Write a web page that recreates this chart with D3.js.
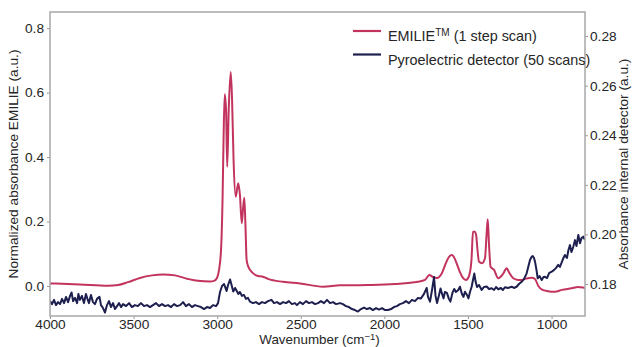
<!DOCTYPE html>
<html>
<head>
<meta charset="utf-8">
<script src="https://cdn.jsdelivr.net/npm/d3@7"></script>
<style>
  body { margin: 0; background: #fff; }
  text { font-family: "Liberation Sans", Arial, sans-serif; fill: #262626; }
</style>
</head>
<body>
<div id="chart"></div>
<script>
// EMILIE spectrum (left axis), [wavenumber, absorbance]
const emilieWave = [4000,3821,3653,3593,3533,3462,3390,3324,3252,3175,3115,3043,3019,3001,2989,2977,2968,2962,2955,2947,2940,2931,2919,2911,2902,2889,2874,2864,2853,2846,2838,2831,2824,2814,2786,2756,2726,2696,2606,2505,2367,2265,2098,1937,1799,1757,1731,1709,1685,1657,1632,1614,1597,1584,1566,1548,1530,1512,1494,1479,1470,1462,1452,1443,1434,1416,1398,1389,1382,1374,1365,1344,1319,1291,1268,1255,1229,1201,1179,1153,1119,1099,1079,1057,1021,980,938,880,842,810,800];
const emilieAbs = [0.008,0.005,0.001,0.003,0.012,0.025,0.033,0.036,0.033,0.022,0.016,0.014,0.016,0.025,0.05,0.112,0.267,0.453,0.595,0.547,0.37,0.547,0.664,0.578,0.391,0.277,0.319,0.283,0.195,0.236,0.274,0.189,0.081,0.06,0.04,0.031,0.029,0.022,0.013,0.008,-0.002,0.002,0.003,0.006,0.013,0.019,0.034,0.028,0.025,0.039,0.071,0.09,0.096,0.09,0.068,0.043,0.025,0.019,0.031,0.081,0.168,0.169,0.161,0.112,0.075,0.071,0.087,0.158,0.207,0.127,0.06,0.05,0.024,0.037,0.055,0.043,0.024,0.019,0.019,0.023,0.026,0.022,0.0,-0.011,-0.016,-0.018,-0.012,-0.007,-0.003,-0.005,-0.006];

// pyroelectric detector spectrum (right axis)
const pyroWave = [4000,3988,3976,3964,3952,3940,3928,3916,3904,3892,3880,3871,3862,3850,3838,3830,3821,3809,3797,3785,3776,3767,3755,3743,3731,3719,3704,3695,3683,3671,3659,3647,3635,3623,3611,3599,3587,3575,3563,3545,3527,3510,3492,3474,3456,3438,3420,3402,3384,3366,3348,3330,3312,3294,3276,3258,3240,3222,3204,3187,3169,3151,3133,3115,3097,3079,3061,3043,3025,3007,2995,2983,2971,2959,2944,2935,2923,2914,2904,2893,2883,2873,2864,2852,2840,2828,2816,2804,2786,2768,2750,2732,2714,2696,2675,2660,2642,2624,2606,2588,2571,2553,2535,2523,2505,2487,2469,2451,2433,2415,2397,2379,2361,2343,2325,2307,2289,2265,2248,2230,2212,2194,2176,2158,2140,2122,2104,2086,2068,2050,2032,2014,1996,1978,1960,1943,1925,1907,1889,1871,1853,1835,1817,1799,1781,1763,1747,1739,1727,1715,1703,1694,1685,1673,1664,1655,1646,1638,1626,1614,1605,1593,1582,1572,1558,1548,1536,1527,1518,1506,1497,1488,1478,1470,1462,1455,1446,1434,1418,1404,1388,1374,1358,1344,1332,1319,1303,1291,1279,1261,1239,1225,1209,1195,1179,1165,1149,1138,1129,1120,1113,1105,1099,1090,1083,1072,1059,1048,1039,1027,1015,999,986,974,960,950,938,929,920,908,899,890,881,870,860,851,840,830,821,810,800];
const pyroAbs = [0.1731,0.1719,0.1736,0.1715,0.1727,0.1719,0.1740,0.1723,0.1748,0.1727,0.1752,0.1766,0.1731,0.1744,0.1723,0.1760,0.1736,0.1752,0.1723,0.1760,0.1740,0.1723,0.1756,0.1727,0.1719,0.1740,0.1748,0.1715,0.1703,0.1685,0.1715,0.1731,0.1707,0.1723,0.1699,0.1711,0.1723,0.1707,0.1719,0.1711,0.1723,0.1707,0.1715,0.1711,0.1723,0.1711,0.1715,0.1707,0.1715,0.1723,0.1711,0.1719,0.1711,0.1715,0.1707,0.1719,0.1711,0.1715,0.1727,0.1711,0.1719,0.1707,0.1715,0.1711,0.1707,0.1699,0.1707,0.1703,0.1715,0.1711,0.1723,0.1768,0.1792,0.1800,0.1772,0.1796,0.1818,0.1796,0.1770,0.1784,0.1772,0.1760,0.1768,0.1752,0.1756,0.1740,0.1744,0.1729,0.1723,0.1727,0.1719,0.1727,0.1723,0.1731,0.1736,0.1723,0.1727,0.1719,0.1727,0.1723,0.1731,0.1719,0.1723,0.1715,0.1727,0.1719,0.1731,0.1723,0.1727,0.1719,0.1723,0.1731,0.1723,0.1736,0.1723,0.1727,0.1719,0.1723,0.1719,0.1711,0.1707,0.1699,0.1695,0.1689,0.1699,0.1705,0.1699,0.1703,0.1695,0.1703,0.1697,0.1703,0.1695,0.1695,0.1699,0.1707,0.1711,0.1719,0.1723,0.1731,0.1723,0.1736,0.1731,0.1744,0.1742,0.1760,0.1784,0.1748,0.1729,0.1776,0.1828,0.1752,0.1723,0.1756,0.1782,0.1760,0.1742,0.1768,0.1764,0.1740,0.1729,0.1764,0.1780,0.1768,0.1776,0.1789,0.1760,0.1748,0.1769,0.1756,0.1742,0.1768,0.1789,0.1816,0.1842,0.1812,0.1788,0.1796,0.1776,0.1788,0.1790,0.1780,0.1783,0.1776,0.1788,0.1779,0.1784,0.1776,0.1787,0.1784,0.1789,0.1784,0.1789,0.1800,0.1809,0.1820,0.1843,0.1873,0.1897,0.1909,0.1913,0.1905,0.1890,0.1856,0.1823,0.1832,0.1816,0.1828,0.1829,0.1824,0.1844,0.1850,0.1856,0.1864,0.1877,0.1869,0.1889,0.1905,0.1917,0.1905,0.1937,0.1957,0.1929,0.1950,0.1977,0.1953,0.1998,0.1964,0.1985,0.1991,0.1977];

const xTicks = [4000, 3500, 3000, 2500, 2000, 1500, 1000];
const leftTicks = [0.0, 0.2, 0.4, 0.6, 0.8];
const rightTicks = [0.18, 0.20, 0.22, 0.24, 0.26, 0.28];

const W = 632, H = 347;
const margin = { top: 12, right: 47, bottom: 31, left: 50 };
const width = W - margin.left - margin.right;
const height = H - margin.top - margin.bottom;

const red = "#c2345e", navy = "#1d1f4e";

const svg = d3.select("#chart").append("svg")
  .attr("width", W)
  .attr("height", H);

const g = svg.append("g")
  .attr("transform", `translate(${margin.left},${margin.top})`);

const x = d3.scaleLinear().domain([4000, 800]).range([0, width]);
const yL = d3.scaleLinear().domain([-0.093, 0.85]).range([height, 0]);
const yR = d3.scaleLinear().domain([0.1671, 0.2897]).range([height, 0]);

g.append("clipPath").attr("id", "clip")
  .append("rect").attr("width", width).attr("height", height);

const emilie = emilieWave.map((w, i) => ({ w: w, v: emilieAbs[i] }));
const pyro = pyroWave.map((w, i) => ({ w: w, v: pyroAbs[i] }));

const lineL = d3.line().x(d => x(d.w)).y(d => yL(d.v)).curve(d3.curveMonotoneX);
const lineR = d3.line().x(d => x(d.w)).y(d => yR(d.v));

g.append("path")
  .datum(emilie)
  .attr("clip-path", "url(#clip)")
  .attr("d", lineL)
  .attr("fill", "none")
  .attr("stroke", red)
  .attr("stroke-width", 2);

g.append("path")
  .datum(pyro)
  .attr("clip-path", "url(#clip)")
  .attr("d", lineR)
  .attr("fill", "none")
  .attr("stroke", navy)
  .attr("stroke-width", 2)
  .attr("stroke-linejoin", "round");

// axes
const xAxis = g.append("g")
  .attr("transform", `translate(0,${height})`)
  .call(d3.axisBottom(x).tickValues(xTicks).tickFormat(d3.format("d")).tickSize(3).tickPadding(0.5));
const leftAxis = g.append("g")
  .call(d3.axisLeft(yL).tickValues(leftTicks).tickFormat(d3.format(".1f")).tickSize(3).tickPadding(3));
const rightAxis = g.append("g")
  .attr("transform", `translate(${width},0)`)
  .call(d3.axisRight(yR).tickValues(rightTicks).tickFormat(d3.format(".2f")).tickSize(3).tickPadding(2));

[xAxis, leftAxis, rightAxis].forEach(a => {
  a.select(".domain").remove();
  a.selectAll(".tick line").attr("stroke", "#999");
  a.selectAll(".tick text")
    .style("font-family", "'Liberation Sans', Arial, sans-serif")
    .style("font-size", "13.7px")
    .attr("fill", "#262626");
});

// frame
g.append("rect")
  .attr("width", width)
  .attr("height", height)
  .attr("fill", "none")
  .attr("stroke", "#a8a8a8")
  .attr("stroke-width", 1.5);

// axis labels
const xl = svg.append("text")
  .attr("x", margin.left + width / 2 + 2)
  .attr("y", H - 3.5)
  .attr("text-anchor", "middle")
  .style("font-size", "13.4px");
xl.append("tspan").text("Wavenumber (cm");
xl.append("tspan").attr("dy", -4).style("font-size", "9.5px").text("\u22121");
xl.append("tspan").attr("dy", 4).text(")");

svg.append("text")
  .attr("transform", `translate(18,${margin.top + 152}) rotate(-90)`)
  .attr("text-anchor", "middle")
  .style("font-size", "13.7px")
  .text("Normalized absorbance EMILIE (a.u.)");

svg.append("text")
  .attr("transform", `translate(628,${margin.top + 152}) rotate(-90)`)
  .attr("text-anchor", "middle")
  .style("font-size", "13.7px")
  .text("Absorbance internal detector (a.u.)");

// legend
const legend = g.append("g").attr("transform", `translate(${353 - margin.left},${31 - margin.top})`);
const items = [
  { color: red, parts: [["EMILIE", 0], ["TM", 1], [" (1 step scan)", 0]] },
  { color: navy, parts: [["Pyroelectric detector (50 scans)", 0]] }
];
items.forEach((it, i) => {
  const row = legend.append("g").attr("transform", `translate(0,${i * 23.5})`);
  row.append("line").attr("x1", 0).attr("x2", 28).attr("stroke", it.color).attr("stroke-width", 2.2);
  const t = row.append("text").attr("x", 35).attr("y", 5).style("font-size", "14.4px");
  it.parts.forEach(p => {
    if (p[1]) t.append("tspan").attr("dy", -5).style("font-size", "10px").text(p[0]);
    else t.append("tspan").attr("dy", t.selectAll("tspan").size() > 0 ? 5 : 0).text(p[0]);
  });
});
</script>
</body>
</html>
